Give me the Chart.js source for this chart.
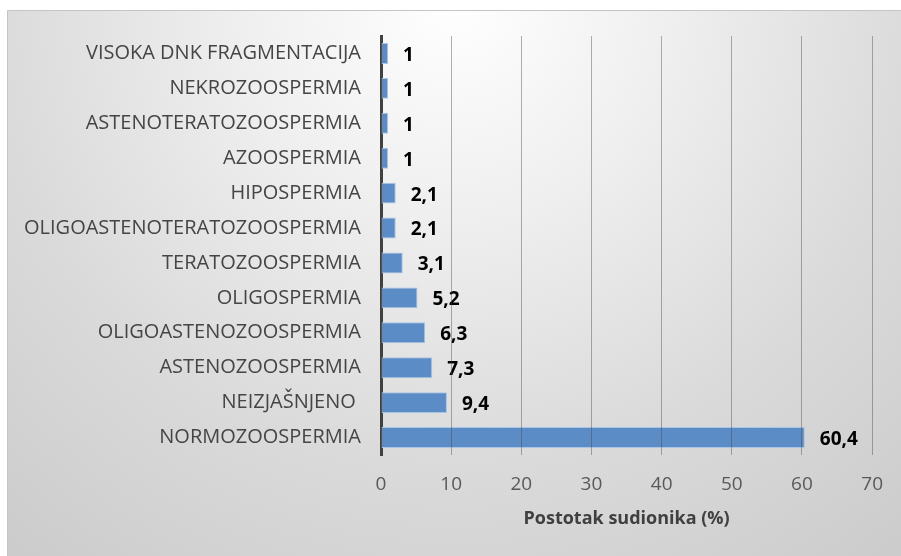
<!DOCTYPE html>
<html>
<head>
<meta charset="utf-8">
<script src="https://cdn.jsdelivr.net/npm/chart.js@4.4.1/dist/chart.umd.min.js"></script>
<style>
html,body{margin:0;padding:0;background:#fff;}
#c{display:block;}
</style>
</head>
<body>
<canvas id="c" width="901" height="556"></canvas>
<script>
const categories = [
  "VISOKA DNK FRAGMENTACIJA",
  "NEKROZOOSPERMIA",
  "ASTENOTERATOZOOSPERMIA",
  "AZOOSPERMIA",
  "HIPOSPERMIA",
  "OLIGOASTENOTERATOZOOSPERMIA",
  "TERATOZOOSPERMIA",
  "OLIGOSPERMIA",
  "OLIGOASTENOZOOSPERMIA",
  "ASTENOZOOSPERMIA",
  "NEIZJAŠNJENO ",
  "NORMOZOOSPERMIA"
];
const values = [1, 1, 1, 1, 2.1, 2.1, 3.1, 5.2, 6.3, 7.3, 9.4, 60.4];
const xTicks = [0, 10, 20, 30, 40, 50, 60, 70];
const xTitle = "Postotak sudionika (%)";

const FONT = "'Open Sans', 'Liberation Sans', sans-serif";

const bgPlugin = {
  id: 'bg',
  beforeDraw(chart) {
    const ctx = chart.ctx;
    ctx.save();
    ctx.fillStyle = '#ffffff';
    ctx.fillRect(0, 0, chart.width, chart.height);
    const x0 = 7, y0 = 10, x1 = chart.width, y1 = chart.height;
    const g = ctx.createRadialGradient(455, 0, 0, 455, 0, 720);
    g.addColorStop(0, '#ffffff');
    g.addColorStop(0.3, '#efefef');
    g.addColorStop(0.65, '#dadada');
    g.addColorStop(1, '#cbcbcb');
    ctx.fillStyle = g;
    ctx.fillRect(x0, y0, x1 - x0, y1 - y0);
    ctx.strokeStyle = '#c4c4c4';
    ctx.lineWidth = 1;
    ctx.beginPath();
    ctx.moveTo(x0 + 0.5, y1);
    ctx.lineTo(x0 + 0.5, y0 + 0.5);
    ctx.lineTo(x1, y0 + 0.5);
    ctx.stroke();
    ctx.restore();
  }
};

const labelPlugin = {
  id: 'vlabels',
  afterDatasetsDraw(chart) {
    const ctx = chart.ctx;
    const meta = chart.getDatasetMeta(0);
    ctx.save();
    ctx.font = "bold 19px " + FONT;
    ctx.fillStyle = '#000000';
    ctx.textAlign = 'left';
    ctx.textBaseline = 'middle';
    meta.data.forEach((bar, i) => {
      const txt = String(values[i]).replace('.', ',');
      ctx.fillText(txt, bar.x + 15, bar.y + 2);
    });
    ctx.restore();
  }
};

new Chart(document.getElementById('c'), {
  type: 'bar',
  data: {
    labels: categories,
    datasets: [{
      data: values,
      backgroundColor: '#5b8cc6',
      borderColor: '#a9c4e4',
      borderWidth: 1,
      borderSkipped: false,
      barPercentage: 0.6,
      categoryPercentage: 1.0
    }]
  },
  options: {
    indexAxis: 'y',
    responsive: false,
    devicePixelRatio: 1,
    animation: false,
    layout: { padding: { top: 36, right: 20, left: 0, bottom: 0 } },
    plugins: {
      legend: { display: false },
      tooltip: { enabled: false },
      title: { display: false }
    },
    scales: {
      x: {
        type: 'linear',
        min: 0,
        max: 70,
        afterBuildTicks(scale) { scale.ticks = xTicks.map(v => ({ value: v })); },
        afterFit(scale) { scale.height = 101; },
        grid: {
          display: true,
          color: 'rgba(70,70,70,0.42)',
          lineWidth: 1,
          drawTicks: false,
          z: 1
        },
        border: { display: false },
        ticks: {
          color: '#595959',
          font: { family: FONT, size: 19 },
          padding: 18,
          callback: (v) => String(v)
        },
        title: {
          display: true,
          text: xTitle,
          color: '#404040',
          font: { family: FONT, size: 18, weight: 'bold' },
          padding: { top: 0, bottom: 26 }
        }
      },
      y: {
        z: 2,
        afterFit(scale) { scale.width = 381; },
        grid: { display: false, drawTicks: false },
        border: { display: true, color: '#404040', width: 3 },
        ticks: {
          color: '#454545',
          font: { family: FONT, size: 20 },
          padding: 20,
          autoSkip: false
        }
      }
    }
  },
  plugins: [bgPlugin, labelPlugin]
});
</script>
</body>
</html>
